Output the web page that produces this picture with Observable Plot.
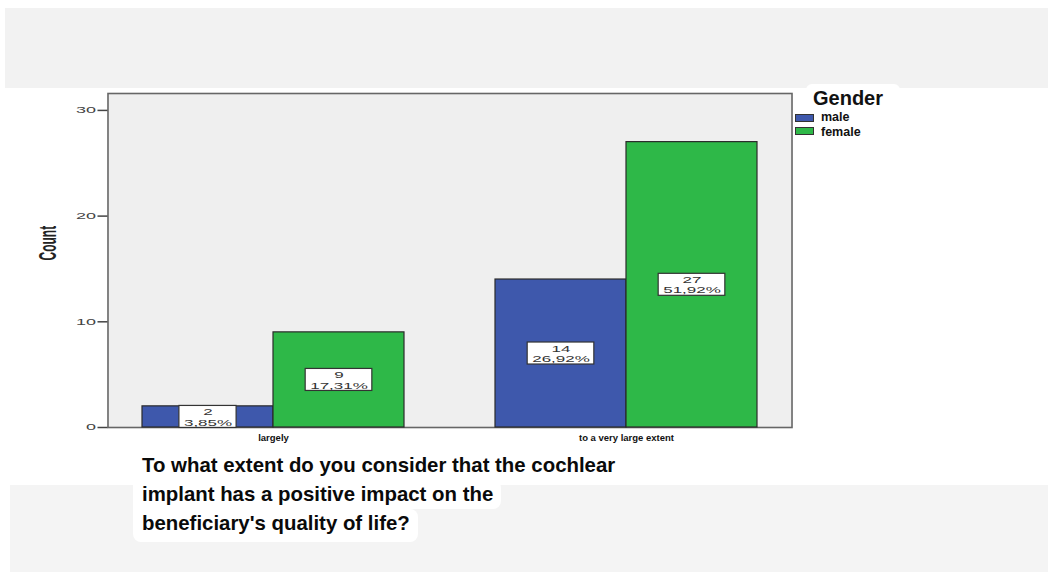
<!DOCTYPE html>
<html>
<head>
<meta charset="utf-8">
<script src="https://cdn.jsdelivr.net/npm/d3@7"></script>
<script src="https://cdn.jsdelivr.net/npm/@observablehq/plot@0.6"></script>
<style>
  html, body { margin: 0; padding: 0; background: #fff; }
  body { width: 1048px; height: 572px; position: relative; overflow: hidden;
         font-family: "Liberation Sans", Arial, sans-serif; }
  .band { position: absolute; }
  #chart { position: absolute; left: 0; top: 0; }
  #legend-box { position: absolute; left: 806px; top: 84px; width: 94px; height: 62px;
                background: #fff; border-radius: 6px; }
  .legend-title { position: absolute; left: 813px; top: 87px; font-size: 20px; font-weight: bold;
                  line-height: 22px; color: #111; }
  .legend-swatch { position: absolute; left: 795px; width: 17px; height: 6px; border: 1px solid #333; }
  .legend-label { position: absolute; left: 821px; font-size: 12.5px; font-weight: bold;
                  line-height: 14px; color: #111; }
  #title { position: absolute; left: 133px; top: 451px; font-size: 20.4px; font-weight: bold;
           line-height: 29px; color: #0a0a0a; }
  #title span { display: block; width: fit-content; background: #fff; padding: 0 8px 0 9px;
                border-radius: 0 8px 8px 0; }
  #title span:first-child { border-top-left-radius: 8px; }
  #title span:last-child { border-bottom-left-radius: 8px; padding-bottom: 4px; }
</style>
</head>
<body>
<div class="band" style="left:5px;top:8px;width:1043px;height:80px;background:#f2f2f2"></div>
<div class="band" style="left:10px;top:485px;width:1038px;height:87px;background:#f4f4f4"></div>
<div id="chart"></div>
<div id="legend"></div>
<div id="title"></div>
<script>
// Responses by answer category and gender
const categories = ["largely", "to a very large extent"];
const genders = ["male", "female"];
const maleCounts = [2, 14];
const femaleCounts = [9, 27];
const genderColors = ["#3e58ac", "#2eb848"];
const yTicks = [0, 10, 20, 30];
const yMax = 31.6;
const yLabel = "Count";
const titleLines = [
  "To what extent do you consider that the cochlear",
  "implant has a positive impact on the",
  "beneficiary's quality of life?"
];

// Percentages are shares of all respondents, written with a decimal comma
const total = d3.sum(maleCounts) + d3.sum(femaleCounts);
const pct = v => d3.format(".2f")(v / total * 100).replace(".", ",") + "%";

const rows = categories.flatMap((category, i) => [
  {category, gender: genders[0], count: maleCounts[i]},
  {category, gender: genders[1], count: femaleCounts[i]}
]).map(d => ({...d, label: `${d.count}\n${pct(d.count)}`}));

// Width of each value box follows its widest text line
const labelFont = "17px 'Liberation Sans', Arial, sans-serif";
const ctx = document.createElement("canvas").getContext("2d");
ctx.font = labelFont;
const labelWidth = d => d3.max(d.label.split("\n"), s => ctx.measureText(s).width) + 9;

// Layout of the category bands
const W = 1048, H = 460;
const margin = {left: 107, right: 255, top: 93, bottom: 33};
const fxPadding = {inner: 0.257, outer: 0.0975};
// Distance from the first band out to the frame edge
const fxBand = d3.scaleBand(categories, [margin.left, W - margin.right])
  .paddingInner(fxPadding.inner).paddingOuter(fxPadding.outer);
const outerGap = fxBand(categories[0]) - margin.left;

const chart = Plot.plot({
  width: W,
  height: H,
  marginLeft: margin.left,
  marginRight: margin.right,
  marginTop: margin.top,
  marginBottom: margin.bottom,
  style: {background: "transparent", fontFamily: "'Liberation Sans', Arial, sans-serif", overflow: "visible"},
  fx: {domain: categories, paddingInner: fxPadding.inner, paddingOuter: fxPadding.outer, label: null},
  x: {domain: genders, padding: 0, axis: null},
  y: {domain: [0, yMax], axis: null},
  color: {domain: genders, range: genderColors},
  marks: [
    Plot.frame({facet: "super", insetLeft: -outerGap, insetRight: -outerGap,
                fill: "#efefef", stroke: "#666", strokeWidth: 1.6}),
    Plot.barY(rows, {fx: "category", x: "gender", y: "count", fill: "gender", stroke: "#2a2a2a", strokeWidth: 1.2}),
    Plot.barY(rows, {
      fx: "category", x: "gender",
      y1: d => d.count / 2, y2: d => d.count / 2,
      insetTop: -11, insetBottom: -11,
      fill: "white", stroke: "#333", strokeWidth: 1.2,
      render(index, scales, values, dimensions, context, next) {
        const g = next(index, scales, values, dimensions, context);
        d3.select(g).selectAll("rect").each(function(_, j) {
          const w = labelWidth(rows[index[j]]);
          const x0 = +this.getAttribute("x");
          const bw = +this.getAttribute("width");
          this.setAttribute("x", x0 + (bw - w) / 2);
          this.setAttribute("width", w);
        });
        return g;
      }
    }),
    Plot.text(rows, {
      fx: "category", x: "gender", y: d => d.count / 2,
      text: "label", fontSize: 17, lineHeight: 1.12, fill: "#333"
    }),
    Plot.axisY({
      facetAnchor: "left", dx: -outerGap, ticks: yTicks, tickSize: 10, tickPadding: 2,
      fontSize: 18, fill: "#444", stroke: "#444", strokeWidth: 1.5, label: null
    }),
    Plot.axisFx({anchor: "bottom", tickSize: 0, tickPadding: 7, fontSize: 9.5, fontWeight: "bold", fill: "#111", label: null}),
    Plot.text([yLabel], {
      facet: "super", text: d => d, frameAnchor: "left", dx: -60 - outerGap, rotate: -90,
      fontSize: 24, fontWeight: "bold", fill: "#222"
    })
  ]
});

// The chart's own lettering is short and wide
const svg = d3.select(chart);
const squash = function(t) {
  this.setAttribute("transform", (this.getAttribute("transform") || "") + " " + t);
};
svg.selectAll('g[aria-label="y-axis tick label"] text').each(function() { squash.call(this, "scale(1,0.47)"); });
svg.selectAll('g[aria-label="text"] text').each(function() {
  squash.call(this, this.textContent === yLabel ? "scale(0.5,1)" : "scale(1,0.55)");
});

document.getElementById("chart").appendChild(chart);

// Legend
const legend = d3.select("#legend");
legend.append("div").attr("id", "legend-box");
legend.append("div").attr("class", "legend-title").text("Gender");
genders.forEach((g, i) => {
  legend.append("div").attr("class", "legend-swatch")
    .style("top", `${114 + i * 12.5}px`).style("background", genderColors[i]);
  legend.append("div").attr("class", "legend-label")
    .style("top", `${110 + i * 15}px`).text(g);
});

// Question text
d3.select("#title").selectAll("span").data(titleLines).join("span").text(d => d);
</script>
</body>
</html>
